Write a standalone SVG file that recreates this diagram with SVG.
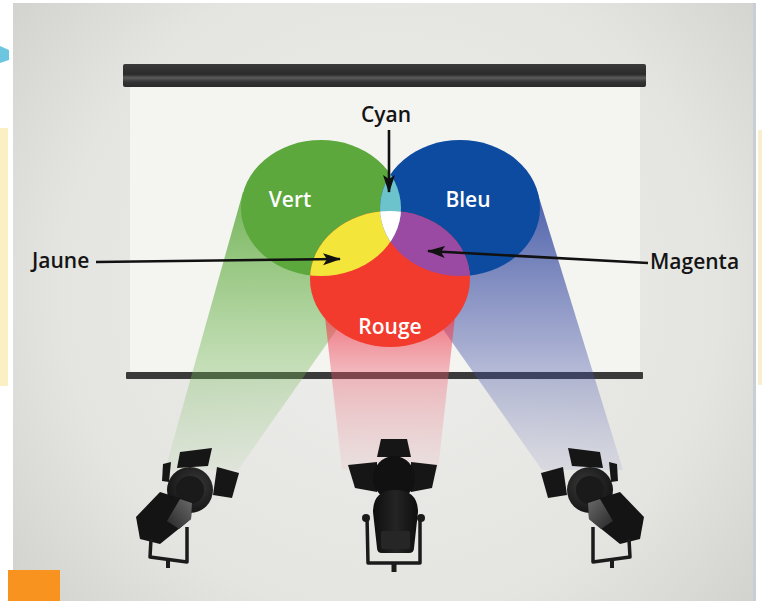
<svg xmlns="http://www.w3.org/2000/svg" width="762" height="601" viewBox="0 0 762 601">
  <defs>
    <style>
      .lbl { font-family: "Open Sans", "Liberation Sans", sans-serif; font-weight: 600; font-size: 21px; }
      .dark { fill: #141414; }
      .white { fill: #ffffff; }
      .conn { stroke: #111111; stroke-width: 2.6; fill: none; }
      .door { fill: #161616; }
      .yoke { stroke: #1b1b1b; stroke-width: 3.5; fill: none; stroke-linejoin: round; }
    </style>
    <radialGradient id="panelGrad" cx="390" cy="290" r="470" gradientUnits="userSpaceOnUse">
      <stop offset="0" stop-color="#eeeeec"/>
      <stop offset="0.7" stop-color="#e4e4e1"/>
      <stop offset="1" stop-color="#d3d3cf"/>
    </radialGradient>
    <linearGradient id="barGrad" x1="0" y1="64" x2="0" y2="87" gradientUnits="userSpaceOnUse">
      <stop offset="0" stop-color="#3a3a3a"/>
      <stop offset="0.45" stop-color="#2b2b2b"/>
      <stop offset="0.6" stop-color="#5a5a5a"/>
      <stop offset="0.78" stop-color="#333333"/>
      <stop offset="1" stop-color="#2a2a2a"/>
    </linearGradient>
    <linearGradient id="greenBeam" x1="0" y1="190" x2="0" y2="475" gradientUnits="userSpaceOnUse">
      <stop offset="0" stop-color="#5ca83c" stop-opacity="0.85"/>
      <stop offset="0.55" stop-color="#6fb650" stop-opacity="0.42"/>
      <stop offset="1" stop-color="#8cc874" stop-opacity="0.08"/>
    </linearGradient>
    <linearGradient id="blueBeam" x1="0" y1="190" x2="0" y2="475" gradientUnits="userSpaceOnUse">
      <stop offset="0" stop-color="#1f3a98" stop-opacity="0.8"/>
      <stop offset="0.55" stop-color="#3a4aa2" stop-opacity="0.42"/>
      <stop offset="1" stop-color="#6a72bc" stop-opacity="0.1"/>
    </linearGradient>
    <linearGradient id="redBeam" x1="0" y1="290" x2="0" y2="475" gradientUnits="userSpaceOnUse">
      <stop offset="0" stop-color="#ee3044" stop-opacity="0.85"/>
      <stop offset="0.45" stop-color="#ee5a6a" stop-opacity="0.38"/>
      <stop offset="1" stop-color="#f08a98" stop-opacity="0.08"/>
    </linearGradient>
    <radialGradient id="headGrad" cx="0.4" cy="0.4" r="0.7">
      <stop offset="0" stop-color="#3a3a3a"/>
      <stop offset="1" stop-color="#101010"/>
    </radialGradient>
    <linearGradient id="faceGrad" x1="0" y1="0" x2="1" y2="1">
      <stop offset="0" stop-color="#6a6a6a"/>
      <stop offset="1" stop-color="#262626"/>
    </linearGradient>
    <linearGradient id="bodyGrad" x1="0" y1="0" x2="1" y2="0">
      <stop offset="0" stop-color="#0e0e0e"/>
      <stop offset="0.5" stop-color="#242424"/>
      <stop offset="1" stop-color="#0e0e0e"/>
    </linearGradient>
    <ellipse id="eGreen" cx="321" cy="208" rx="80" ry="68"/>
    <ellipse id="eBlue" cx="460" cy="208" rx="80" ry="68"/>
    <ellipse id="eRed" cx="390" cy="279" rx="80" ry="68"/>
    <clipPath id="clipGreen"><use href="#eGreen"/></clipPath>
    <clipPath id="clipBlue"><use href="#eBlue"/></clipPath>
    <marker id="arrow" markerUnits="userSpaceOnUse" markerWidth="20" markerHeight="14" refX="17" refY="7" orient="auto" viewBox="0 0 20 14">
      <path d="M0,1 L18,7 L0,13 L4,7 Z" fill="#111111"/>
    </marker>
    <!-- side-view spotlight, drawn pointing up-left -->
    <g id="lampSide">
      <polygon class="door" points="568,448 600,452 603,468 572,466"/>
      <polygon class="door" points="541,473 563,467 567,495 548,498"/>
      <polygon class="door" points="609,462 617,464 618,481 611,482"/>
      <circle cx="590" cy="490" r="23" fill="url(#headGrad)"/>
      <circle cx="590" cy="490" r="14" fill="#1a1a1a"/>
      <polygon points="588,502 620,492 644,517 640,539 620,544 589,519" fill="#141414"/>
      <polygon points="588,503 600,499 613,521 601,529 589,519" fill="url(#faceGrad)"/>
      <path class="yoke" d="M593,527 L593,562 L630,557 L629,539"/>
      <line x1="612" y1="560" x2="612" y2="568" stroke="#1b1b1b" stroke-width="4"/>
    </g>
  </defs>

  <!-- page -->
  <rect x="0" y="0" width="762" height="601" fill="#ffffff"/>
  <rect x="13" y="3" width="741" height="598" fill="url(#panelGrad)"/>
  <rect x="753" y="3" width="3" height="598" fill="#c9ced6"/>
  <rect x="0" y="128" width="8" height="258" fill="#fbf0c4"/>
  <rect x="758" y="130" width="4" height="255" fill="#f7efcf"/>
  <polygon points="0,46 9,50 9,60 0,63" fill="#6cc6e0"/>
  <rect x="8" y="570" width="52" height="31" fill="#f7931e"/>

  <!-- projection screen -->
  <g id="screen">
    <rect x="130" y="86" width="510" height="287" fill="#f4f4f1"/>
    <rect x="123" y="64" width="523" height="23" rx="2" fill="url(#barGrad)"/>
    <rect x="126" y="372" width="517" height="7" rx="1" fill="#3a3a3a"/>
  </g>

  <!-- light beams -->
  <g id="beams">
    <polygon id="beam-green" points="243,192 321,200 397,244 238,470 165,470" fill="url(#greenBeam)"/>
    <polygon id="beam-blue" points="537,191 623,470 542,470 383,244 460,200" fill="url(#blueBeam)"/>
    <polygon id="beam-red" points="322,290 458,290 438,470 342,470" fill="url(#redBeam)"/>
  </g>

  <!-- additive colour circles -->
  <g id="circle-green"><use href="#eGreen" fill="#5ca83c"/></g>
  <g id="circle-blue"><use href="#eBlue" fill="#0d4ba0"/></g>
  <g id="circle-red"><use href="#eRed" fill="#f23b2d"/></g>
  <g id="mix-yellow" clip-path="url(#clipGreen)"><use href="#eRed" fill="#f3e53a"/></g>
  <g id="mix-magenta" clip-path="url(#clipBlue)"><use href="#eRed" fill="#9a4aa2"/></g>
  <g id="mix-cyan" clip-path="url(#clipGreen)"><use href="#eBlue" fill="#6cc3cb"/></g>
  <g id="mix-white" clip-path="url(#clipGreen)">
    <g clip-path="url(#clipBlue)"><use href="#eRed" fill="#ffffff"/></g>
  </g>

  <!-- circle names -->
  <g id="names">
    <text class="lbl white" x="290" y="207" text-anchor="middle">Vert</text>
    <text class="lbl white" x="468" y="207" text-anchor="middle">Bleu</text>
    <text class="lbl white" x="390" y="334" text-anchor="middle">Rouge</text>
  </g>

  <!-- callout labels -->
  <g id="label-cyan"><text class="lbl dark" x="386" y="122" text-anchor="middle">Cyan</text></g>
  <g id="label-jaune"><text class="lbl dark" x="32" y="268">Jaune</text></g>
  <g id="label-magenta"><text class="lbl dark" x="650" y="269">Magenta</text></g>

  <g id="connectors">
    <line class="conn" x1="389" y1="130" x2="389" y2="192" marker-end="url(#arrow)"/>
    <line class="conn" x1="96" y1="262" x2="340" y2="259" marker-end="url(#arrow)"/>
    <line class="conn" x1="648" y1="263" x2="428" y2="251" marker-end="url(#arrow)"/>
  </g>

  <!-- spotlights -->
  <g id="lamp-left" transform="translate(780,0) scale(-1,1)"><use href="#lampSide"/></g>
  <g id="lamp-center">
    <polygon points="381,439 407,439 411,457 377,457" fill="#161616"/>
    <polygon class="door" points="348,465 377,462 377,492 355,488"/>
    <polygon class="door" points="411,462 437,465 432,488 411,492"/>
    <ellipse cx="394" cy="478" rx="21" ry="22" fill="#111111"/>
    <path d="M373,512 Q373,490 395,490 Q418,490 418,512 L414,548 Q414,553 409,553 L382,553 Q377,553 377,548 Z" fill="url(#bodyGrad)"/>
    <rect x="381" y="531" width="29" height="18" rx="2" fill="#262626"/>
    <path class="yoke" d="M367,516 L368,563 L420,563 L420,516"/>
    <circle cx="366" cy="518" r="4" fill="#1b1b1b"/>
    <circle cx="421" cy="518" r="4" fill="#1b1b1b"/>
    <line x1="394" y1="562" x2="394" y2="572" stroke="#1b1b1b" stroke-width="5"/>
  </g>
  <g id="lamp-right"><use href="#lampSide"/></g>
</svg>
